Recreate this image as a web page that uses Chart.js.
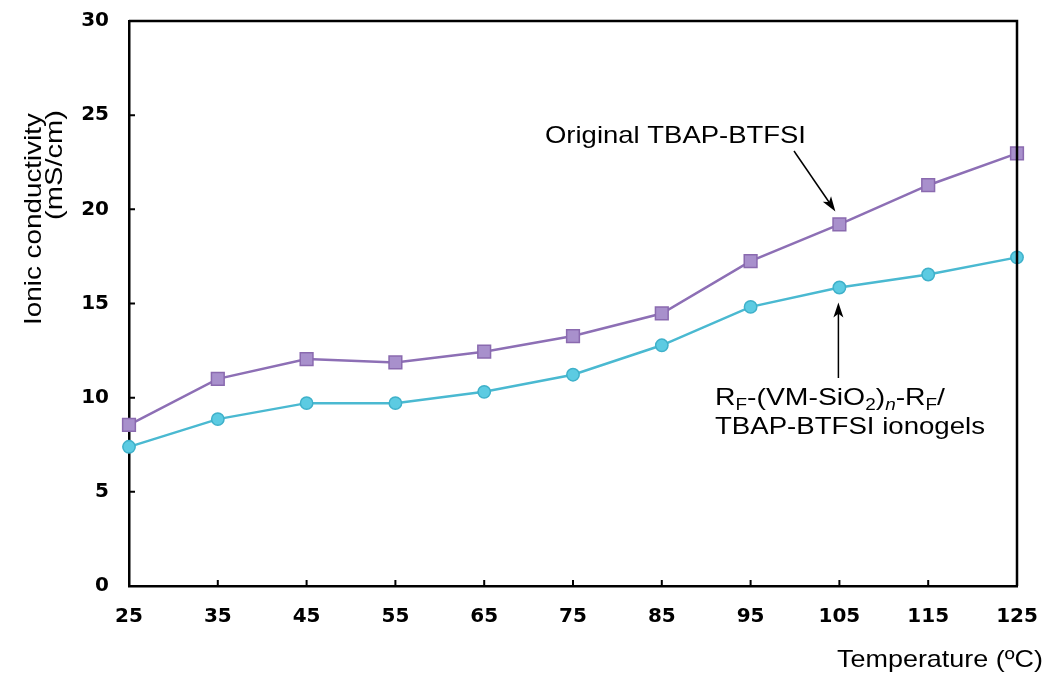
<!DOCTYPE html>
<html>
<head>
<meta charset="utf-8">
<script src="https://cdn.jsdelivr.net/npm/chart.js@4/dist/chart.umd.min.js"></script>
<style>
  html, body { margin: 0; padding: 0; background: #fff; }
  #wrap { width: 1045px; height: 677px; position: relative; }
</style>
</head>
<body>
<div id="wrap"><canvas id="chart" width="1045" height="677"></canvas></div>
<script>
// Temperature (ºC)
const temperatures = [25, 35, 45, 55, 65, 75, 85, 95, 105, 115, 125];
// Ionic conductivity (mS/cm)
const originalValues = [8.55, 11.0, 12.05, 11.87, 12.44, 13.27, 14.47, 17.25, 19.2, 21.28, 22.97];
const ionogelValues = [7.39, 8.86, 9.71, 9.71, 10.31, 11.22, 12.78, 14.82, 15.85, 16.54, 17.45];
const yTicks = [0, 5, 10, 15, 20, 25, 30];

const FONT = "'Liberation Sans', Arial, Helvetica, sans-serif";
const TICK_FONT = "'DejaVu Sans', 'Liberation Sans', sans-serif";
const annotateIndex = temperatures.indexOf(105);

// draw text stretched along its direction so it spans the given width
function fitText(ctx, text, x, y, width, font) {
    ctx.font = font;
    const w = ctx.measureText(text).width;
    ctx.save();
    ctx.translate(x, y);
    ctx.scale(width / w, 1);
    ctx.textAlign = 'left';
    ctx.fillText(text, 0, 0);
    ctx.restore();
}

// text with subscripts; parts are [text, kind] with kind 0 normal, 1 sub, 2 italic sub
function fitRich(ctx, parts, x, y, width) {
    const fontOf = function(p) {
        return p[1] === 0 ? '24px ' + FONT : (p[1] === 2 ? 'italic ' : '') + '16px ' + FONT;
    };
    let total = 0;
    parts.forEach(function(p) {
        ctx.font = fontOf(p);
        total += ctx.measureText(p[0]).width;
    });
    ctx.save();
    ctx.translate(x, y);
    ctx.scale(width / total, 1);
    ctx.textAlign = 'left';
    let cx = 0;
    parts.forEach(function(p) {
        ctx.font = fontOf(p);
        ctx.fillText(p[0], cx, p[1] === 0 ? 0 : 5);
        cx += ctx.measureText(p[0]).width;
    });
    ctx.restore();
}

function drawArrow(ctx, x1, y1, x2, y2) {
    const ang = Math.atan2(y2 - y1, x2 - x1);
    const len = 15, half = 5;
    const c = Math.cos(ang), s = Math.sin(ang);
    ctx.strokeStyle = '#000';
    ctx.lineWidth = 1.5;
    ctx.beginPath();
    ctx.moveTo(x1, y1);
    ctx.lineTo(x2 - c * len * 0.7, y2 - s * len * 0.7);
    ctx.stroke();
    ctx.fillStyle = '#000';
    ctx.beginPath();
    ctx.moveTo(x2, y2);
    ctx.lineTo(x2 - c * len - s * half, y2 - s * len + c * half);
    ctx.lineTo(x2 - c * len * 0.75, y2 - s * len * 0.75);
    ctx.lineTo(x2 - c * len + s * half, y2 - s * len - c * half);
    ctx.closePath();
    ctx.fill();
}

// frame, inside ticks, axis titles and arrows
const decorations = {
    id: 'decorations',
    afterDraw(chart) {
        const ctx = chart.ctx;
        const area = chart.chartArea;
        const x = chart.scales.x;
        const y = chart.scales.y;
        ctx.save();

        // top and right border
        ctx.strokeStyle = '#000';
        ctx.lineWidth = 2.5;
        ctx.beginPath();
        ctx.moveTo(area.left, area.top);
        ctx.lineTo(area.right, area.top);
        ctx.lineTo(area.right, area.bottom);
        ctx.stroke();

        // ticks pointing inside
        ctx.lineWidth = 2;
        ctx.beginPath();
        temperatures.forEach(function(t, i) {
            const px = x.getPixelForValue(i);
            ctx.moveTo(px, area.bottom);
            ctx.lineTo(px, area.bottom - 6);
        });
        yTicks.forEach(function(v) {
            const py = y.getPixelForValue(v);
            ctx.moveTo(area.left, py);
            ctx.lineTo(area.left + 6, py);
        });
        ctx.stroke();

        ctx.fillStyle = '#000';
        ctx.textBaseline = 'alphabetic';

        // axis titles
        fitText(ctx, 'Temperature (ºC)', 837, 667, 206, '24px ' + FONT);
        ctx.save();
        ctx.rotate(-Math.PI / 2);
        fitText(ctx, 'Ionic conductivity', -325, 41, 212, '24px ' + FONT);
        fitText(ctx, '(mS/cm)', -220, 62, 110, '24px ' + FONT);
        ctx.restore();

        // annotation for the original electrolyte
        fitText(ctx, 'Original TBAP-BTFSI', 545, 143, 261, '24px ' + FONT);
        const p1x = x.getPixelForValue(annotateIndex);
        const p1y = y.getPixelForValue(originalValues[annotateIndex]);
        drawArrow(ctx, 794, 151, p1x - 4, p1y - 13);

        // annotation for the ionogel
        fitRich(ctx, [
            ['R', 0], ['F', 1], ['-(VM-SiO', 0], ['2', 1], [')', 0], ['n', 2],
            ['-R', 0], ['F', 1], ['/', 0]
        ], 715, 405, 230);
        fitText(ctx, 'TBAP-BTFSI ionogels', 715, 434, 270, '24px ' + FONT);
        const p2x = x.getPixelForValue(annotateIndex);
        const p2y = y.getPixelForValue(ionogelValues[annotateIndex]);
        drawArrow(ctx, p2x - 1, 378, p2x - 1, p2y + 15);

        ctx.restore();
    }
};

new Chart(document.getElementById('chart'), {
    type: 'line',
    data: {
        labels: temperatures,
        datasets: [
            {
                label: 'Original TBAP-BTFSI',
                data: originalValues,
                borderColor: '#8d6fb5',
                backgroundColor: '#a890cc',
                pointBorderColor: '#8a6aaf',
                pointStyle: 'rect',
                pointRadius: 9,
                pointBorderWidth: 1.5,
                borderWidth: 2.5,
                tension: 0
            },
            {
                label: 'RF-(VM-SiO2)n-RF/TBAP-BTFSI ionogels',
                data: ionogelValues,
                borderColor: '#4ab9d1',
                backgroundColor: '#5ccbe2',
                pointBorderColor: '#3fb1ca',
                pointStyle: 'circle',
                pointRadius: 6.2,
                pointBorderWidth: 1.5,
                borderWidth: 2.5,
                tension: 0
            }
        ]
    },
    options: {
        responsive: false,
        animation: false,
        layout: { padding: { left: 0, right: 28, top: 21, bottom: 0 } },
        plugins: {
            legend: { display: false },
            tooltip: { enabled: false }
        },
        scales: {
            x: {
                offset: false,
                grid: { display: false, drawTicks: false },
                border: { display: true, color: '#000', width: 2.5 },
                ticks: {
                    color: '#000',
                    padding: 19,
                    maxRotation: 0,
                    font: { family: TICK_FONT, size: 20, weight: 'bold' }
                },
                afterFit: function(scale) {
                    scale.height = 91;
                    scale.paddingLeft = 0;
                    scale.paddingRight = 0;
                }
            },
            y: {
                min: 0,
                max: 30,
                grid: { display: false, drawTicks: false },
                border: { display: true, color: '#000', width: 2.5 },
                ticks: {
                    color: '#000',
                    padding: 20,
                    stepSize: 5,
                    font: { family: TICK_FONT, size: 20, weight: 'bold' }
                },
                afterFit: function(scale) {
                    scale.width = 129;
                    scale.paddingTop = 0;
                    scale.paddingBottom = 0;
                }
            }
        }
    },
    plugins: [decorations]
});
</script>
</body>
</html>
